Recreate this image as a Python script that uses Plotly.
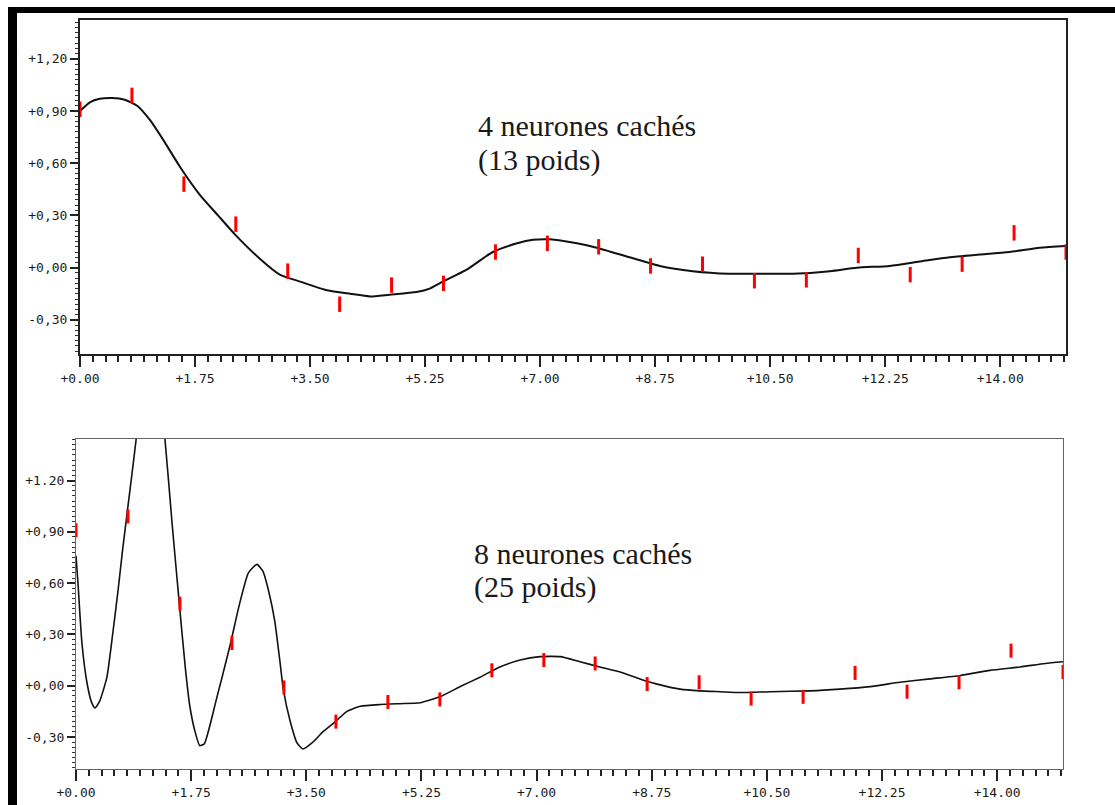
import plotly.graph_objects as go

# ---------------- data ----------------
# sample points (red marks), same x for both panels
pts_x = [0.0, 0.79, 1.58, 2.37, 3.16, 3.95, 4.74, 5.53, 6.32, 7.11,
         7.89, 8.68, 9.47, 10.26, 11.05, 11.84, 12.63, 13.42, 14.21, 15.0]
pts_y_top = [0.91, 0.99, 0.48, 0.25, -0.02, -0.21, -0.10, -0.09, 0.09, 0.14,
             0.12, 0.01, 0.02, -0.075, -0.07, 0.07, -0.04, 0.02, 0.20, 0.09]
pts_y_bot = [0.91, 0.99, 0.48, 0.25, -0.01, -0.21, -0.095, -0.08, 0.09, 0.15,
             0.13, 0.01, 0.02, -0.075, -0.065, 0.075, -0.035, 0.02, 0.205, 0.08]

# network output, 4 hidden neurons (13 weights)
curve4_x = [0.0, 0.15, 0.30, 0.49, 0.68, 0.87, 1.06, 1.29, 1.52, 1.82, 2.10, 2.36,
            2.74, 3.04, 3.35, 3.76, 4.11, 4.41, 4.71, 5.12, 5.32, 5.52, 5.89, 6.28,
            6.65, 6.89, 7.15, 7.56, 7.86, 8.36, 8.82, 9.32, 9.88, 10.45, 10.84,
            11.41, 11.82, 12.32, 12.77, 13.23, 13.69, 14.14, 14.60, 15.0]
curve4_y = [0.90, 0.95, 0.97, 0.975, 0.965, 0.93, 0.85, 0.72, 0.58, 0.42, 0.30, 0.19,
            0.05, -0.04, -0.08, -0.13, -0.15, -0.165, -0.155, -0.14, -0.12, -0.08, -0.01, 0.09,
            0.14, 0.16, 0.163, 0.14, 0.115, 0.06, 0.01, -0.02, -0.035, -0.035, -0.035,
            -0.02, 0.0, 0.01, 0.035, 0.06, 0.075, 0.09, 0.115, 0.125]

# network output, 8 hidden neurons (25 weights)
curve8_x = [0.0, 0.03, 0.09, 0.17, 0.24, 0.29, 0.36, 0.47, 0.56, 0.64, 0.71, 0.79,
            0.87, 0.94, 1.05, 1.15, 1.25, 1.35, 1.46, 1.57, 1.66, 1.73, 1.81, 1.88,
            1.95, 2.03, 2.12, 2.22, 2.35, 2.48, 2.62, 2.75, 2.84, 2.93, 3.02, 3.10,
            3.15, 3.25, 3.36, 3.45, 3.60, 3.75, 3.94, 4.12, 4.32, 4.62, 4.92, 5.23,
            5.53, 5.84, 6.14, 6.44, 6.75, 7.05, 7.36, 7.66, 7.96, 8.27, 8.57, 8.88,
            9.18, 9.48, 9.79, 10.09, 10.55, 11.16, 11.61, 12.07, 12.52, 12.98, 13.44,
            13.89, 14.35, 14.73, 15.0]
curve8_y = [0.76, 0.60, 0.25, 0.01, -0.10, -0.13, -0.09, 0.05, 0.31, 0.56, 0.80, 1.05,
            1.30, 1.52, 1.78, 1.86, 1.75, 1.45, 0.95, 0.48, 0.11, -0.12, -0.27, -0.35,
            -0.34, -0.24, -0.10, 0.05, 0.25, 0.47, 0.66, 0.71, 0.67, 0.55, 0.38, 0.14,
            -0.02, -0.20, -0.335, -0.37, -0.33, -0.27, -0.21, -0.15, -0.12, -0.11, -0.105, -0.10,
            -0.065, -0.005, 0.05, 0.11, 0.15, 0.17, 0.17, 0.14, 0.11, 0.08, 0.04, 0.005,
            -0.02, -0.03, -0.035, -0.04, -0.035, -0.03, -0.02, -0.005, 0.02, 0.04, 0.06,
            0.09, 0.11, 0.13, 0.14]

x_tickvals = [0, 1.75, 3.5, 5.25, 7.0, 8.75, 10.5, 12.25, 14.0]
x_ticktext = ["+0.00", "+1.75", "+3.50", "+5.25", "+7.00", "+8.75", "+10.50", "+12.25", "+14.00"]
y_tickvals = [-0.3, 0.0, 0.3, 0.6, 0.9, 1.2]
y_ticktext_top = ["-0,30", "+0,00", "+0,30", "+0,60", "+0,90", "+1,20"]
y_ticktext_bot = ["-0,30", "+0,00", "+0,30", "+0,60", "+0,90", "+1.20"]

label_top = ["4 neurones cachés", "(13 poids)"]
label_bot = ["8 neurones cachés", "(25 poids)"]

# ---------------- figure ----------------
W, H = 1115, 805
fig = go.Figure()

fig.add_trace(go.Scatter(x=curve4_x, y=curve4_y, mode="lines",
                         line=dict(color="#111", width=2, shape="spline", smoothing=0.6),
                         xaxis="x", yaxis="y", showlegend=False, hoverinfo="skip"))
fig.add_trace(go.Scatter(x=pts_x, y=pts_y_top, mode="markers",
                         marker=dict(symbol="line-ns", size=11, line=dict(width=3, color="#ff0000")),
                         xaxis="x", yaxis="y", showlegend=False))
fig.add_trace(go.Scatter(x=curve8_x, y=curve8_y, mode="lines",
                         line=dict(color="#111", width=1.6, shape="spline", smoothing=0.5),
                         xaxis="x2", yaxis="y2", showlegend=False, hoverinfo="skip"))
fig.add_trace(go.Scatter(x=pts_x, y=pts_y_bot, mode="markers",
                         marker=dict(symbol="line-ns", size=10, line=dict(width=3, color="#ff0000")),
                         xaxis="x2", yaxis="y2", showlegend=False))

tickfont = dict(family="DejaVu Sans Mono", size=13, color="#1a1a1a")


def xax(domain, anchor, lc, lw):
    return dict(domain=domain, anchor=anchor, range=[0, 15], tickmode="array",
                tickvals=x_tickvals, ticktext=x_ticktext, ticks="outside", ticklen=11,
                tickwidth=1.5, tickcolor="#222", showline=True, linecolor=lc, linewidth=lw,
                mirror=True, showgrid=False, zeroline=False, tickfont=tickfont,
                automargin=False,
                minor=dict(dtick=1.75 / 9, tick0=0, ticks="outside", ticklen=6,
                           tickwidth=1.5, tickcolor="#222", showgrid=False),
                fixedrange=True)


def yax(domain, anchor, rng, ttext, lc, lw):
    return dict(domain=domain, anchor=anchor, range=rng, tickmode="array",
                tickvals=y_tickvals, ticktext=ttext, ticks="outside", ticklen=8,
                tickwidth=1.5, tickcolor="#222", showline=True, linecolor=lc, linewidth=lw,
                mirror=True, showgrid=False, zeroline=False, tickfont=tickfont,
                automargin=False,
                minor=dict(dtick=0.03, tick0=0, ticks="outside", ticklen=3,
                           tickwidth=1, tickcolor="#333", showgrid=False),
                fixedrange=True)


fig.update_layout(
    width=W, height=H, autosize=False,
    margin=dict(l=0, r=0, t=0, b=0, pad=0),
    paper_bgcolor="white", plot_bgcolor="white",
    xaxis=xax([80 / W, 1066 / W], "y", "#222", 2),
    yaxis=yax([1 - 354 / H, 1 - 20 / H], "x", [-0.496, 1.423], y_ticktext_top, "#222", 2),
    xaxis2=xax([76 / W, 1063 / W], "y2", "#666", 1.2),
    yaxis2=yax([1 - 769 / H, 1 - 439 / H], "x2", [-0.487, 1.443], y_ticktext_bot, "#666", 1.2),
)

# outer black frame (top and left bars)
fig.add_shape(type="rect", xref="paper", yref="paper",
              x0=8 / W, x1=1.0, y0=1 - 13 / H, y1=1 - 7 / H,
              fillcolor="black", line=dict(width=0), layer="above")
fig.add_shape(type="rect", xref="paper", yref="paper",
              x0=8 / W, x1=17 / W, y0=0, y1=1 - 7 / H,
              fillcolor="black", line=dict(width=0), layer="above")

serif = dict(family="Liberation Serif", size=30, color="#1a1a1a")
for txt, ypx in zip(label_top, [126, 160]):
    fig.add_annotation(text=txt, xref="paper", yref="paper", x=476 / W, y=1 - ypx / H,
                       xanchor="left", yanchor="middle", showarrow=False, font=serif)
for txt, ypx in zip(label_bot, [553, 587]):
    fig.add_annotation(text=txt, xref="paper", yref="paper", x=472 / W, y=1 - ypx / H,
                       xanchor="left", yanchor="middle", showarrow=False, font=serif)

fig.write_html("out.html", config={"displayModeBar": False, "responsive": False},
               post_script="document.body.style.margin='0';document.body.style.padding='0';"
                           "document.documentElement.style.overflow='hidden';")
